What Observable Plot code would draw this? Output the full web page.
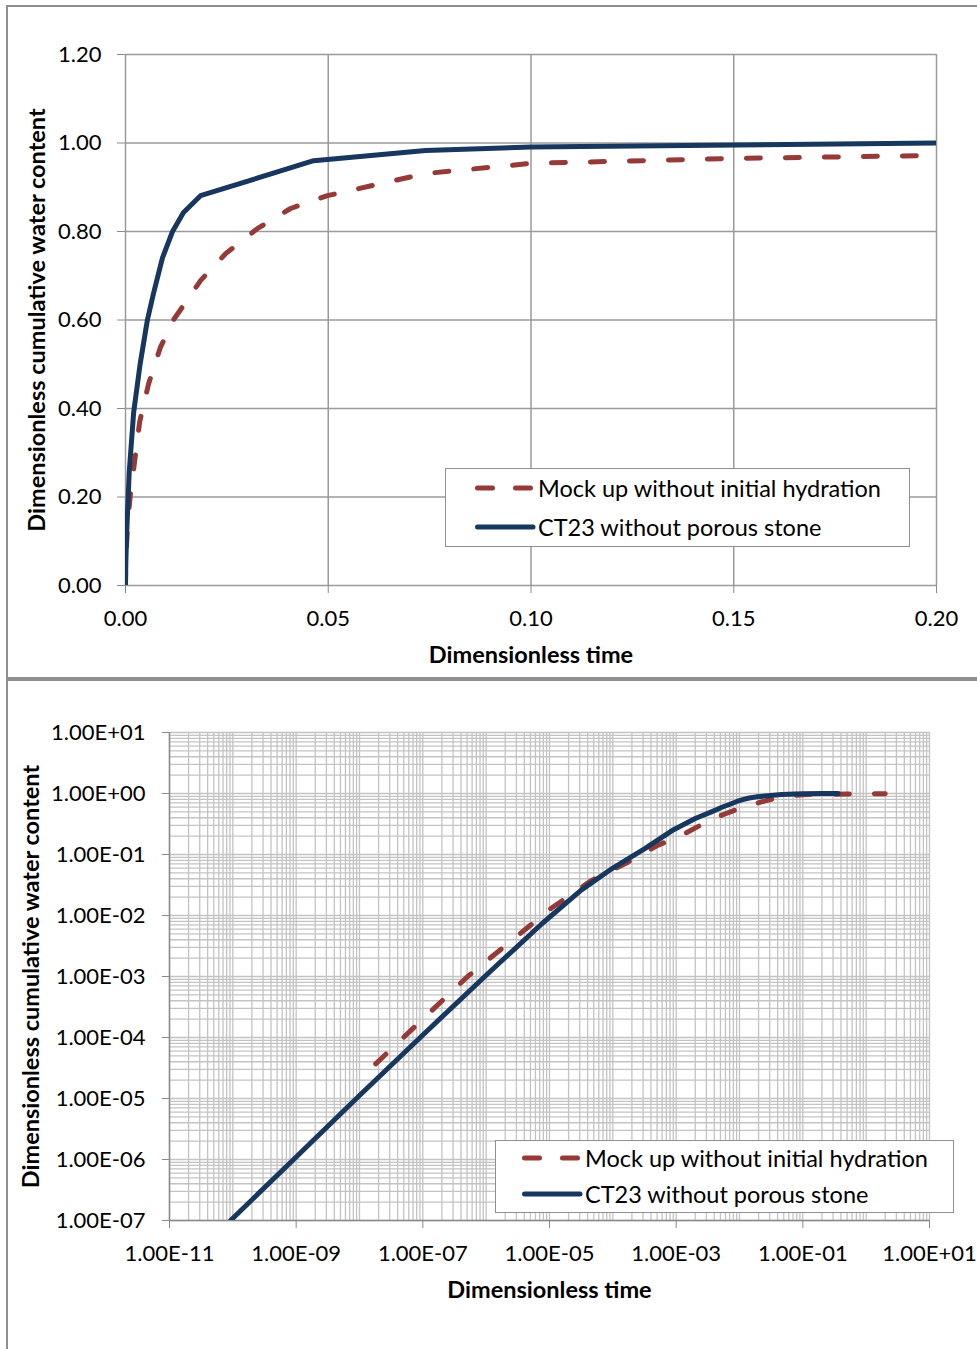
<!DOCTYPE html>
<html>
<head>
<meta charset="utf-8">
<script src="https://cdn.jsdelivr.net/npm/d3@7"></script>
<script src="https://cdn.jsdelivr.net/npm/@observablehq/plot@0.6"></script>
<style>
html,body{margin:0;padding:0;overflow:hidden;background:#fff;width:977px;height:1349px;}
#page{position:relative;width:977px;height:1349px;font-family:Lato,sans-serif;}
.panel{position:absolute;box-sizing:border-box;border:2px solid #8f8f8f;pointer-events:none;}
.chart{position:absolute;left:0;}
.legend{position:absolute;box-sizing:border-box;border:1.5px solid #8f8f8f;background:#fff;font-family:Lato,sans-serif;font-size:23.5px;color:#000;}
.legend .row{position:absolute;left:0;height:30px;display:flex;align-items:center;white-space:nowrap;}
.legend svg{display:block;}
</style>
</head>
<body>
<div id="page"></div>
<script>
// ---- data ----
const ctTime  = [9.2e-11, 1e-9, 1e-8, 1e-7, 1e-6, 7.9e-6, 3.2e-5, 1e-4, 3.2e-4, 9.1e-4, 0.002, 0.0036, 0.0054, 0.0069, 0.0091, 0.0116, 0.0143, 0.0185, 0.0464, 0.074, 0.1, 0.2, 0.36];
const ctValue = [1.0e-7, 1.1e-6, 1.12e-5, 1.1e-4, 1.05e-3, 7.6e-3, 0.0263, 0.060, 0.125, 0.255, 0.39, 0.50, 0.60, 0.66, 0.74, 0.80, 0.843, 0.881, 0.96, 0.983, 0.991, 1.0, 1.0];
const mockTime  = [1.8e-8, 5.1e-7, 1.05e-5, 1.78e-5, 4.5e-5, 1.7e-4, 5.1e-4, 0.0012, 0.0035, 0.0057, 0.0086, 0.0118, 0.0131, 0.0185, 0.0247, 0.0326, 0.0407, 0.0498, 0.074, 0.1, 0.15, 0.2, 0.5, 2.0];
const mockValue = [3.7e-5, 1.0e-3, 0.013, 0.019, 0.037, 0.074, 0.141, 0.205, 0.37, 0.456, 0.538, 0.60, 0.617, 0.689, 0.75, 0.807, 0.852, 0.881, 0.931, 0.954, 0.965, 0.972, 0.98, 0.99];

const seriesNames = ["Mock up without initial hydration", "CT23 without porous stone"];
const xLabel = "Dimensionless time";
const yLabel = "Dimensionless cumulative water content";

const linXTicks = [0, 0.05, 0.10, 0.15, 0.20];
const linYTicks = [0, 0.2, 0.4, 0.6, 0.8, 1.0, 1.2];
const logXTicks = [1e-11, 1e-9, 1e-7, 1e-5, 1e-3, 1e-1, 1e1];
const logYTicks = [1e-7, 1e-6, 1e-5, 1e-4, 1e-3, 1e-2, 1e-1, 1e0, 1e1];

// ---- styling ----
const RED = "#963a37", BLUE = "#17375e";
const FONT = "Lato, sans-serif";
const TICKFS = 22, LABELFS = 23.5;

const ct = ctTime.map((t, i) => ({t, v: ctValue[i]}));
const mock = mockTime.map((t, i) => ({t, v: mockValue[i]}));

function sci(d) {
  const [m, e] = d.toExponential(2).split("e");
  return m + "E" + e[0] + e.slice(1).padStart(2, "0");
}
function minorGrid(lo, hi) {
  const out = [];
  for (let e = lo; e < hi; e++) for (let k = 1; k < 10; k++) out.push(k * Math.pow(10, e));
  out.push(Math.pow(10, hi));
  return out;
}

const page = document.getElementById("page");

// ---- top: linear chart ----
const topChart = Plot.plot({
  width: 977, height: 680,
  marginLeft: 125, marginRight: 41, marginTop: 54, marginBottom: 95,
  style: {fontFamily: FONT, fontSize: TICKFS + "px", background: "transparent", color: "#000", overflow: "visible"},
  x: {domain: [0, 0.2]},
  y: {domain: [0, 1.2]},
  marks: [
    Plot.gridX(linXTicks, {stroke: "#9a9a9a", strokeOpacity: 1, strokeWidth: 1.5}),
    Plot.gridY(linYTicks, {stroke: "#9a9a9a", strokeOpacity: 1, strokeWidth: 1.5}),
    Plot.axisX({ticks: linXTicks, tickFormat: d => d.toFixed(2), tickSize: 8, tickPadding: 17, label: null, stroke: "#8a8a8a", fill: "#000", fontSize: TICKFS}),
    Plot.axisY({ticks: linYTicks, tickFormat: d => d.toFixed(2), tickSize: 8, tickPadding: 16, label: null, stroke: "#8a8a8a", fill: "#000", fontSize: TICKFS}),
    Plot.line(mock, {x: "t", y: "v", stroke: RED, strokeWidth: 5, strokeDasharray: "14,25", strokeLinecap: "round", clip: true}),
    Plot.line(ct, {x: "t", y: "v", stroke: BLUE, strokeWidth: 5, strokeLinejoin: "round", clip: true}),
    Plot.text([xLabel], {text: d => d, frameAnchor: "bottom", dy: 77, fontWeight: "bold", fontSize: LABELFS, fill: "#000"}),
    Plot.text([yLabel], {text: d => d, frameAnchor: "left", textAnchor: "middle", dx: -88, rotate: -90, fontWeight: "bold", fontSize: LABELFS, fill: "#000"})
  ]
});
topChart.classList.add("chart");
topChart.style.top = "0px";
page.appendChild(topChart);

// ---- bottom: log-log chart ----
const botChart = Plot.plot({
  width: 977, height: 669,
  marginLeft: 169, marginRight: 48, marginTop: 52, marginBottom: 129,
  style: {fontFamily: FONT, fontSize: TICKFS + "px", background: "transparent", color: "#000", overflow: "visible"},
  x: {type: "log", domain: [1e-11, 1e1]},
  y: {type: "log", domain: [1e-7, 1e1]},
  marks: [
    Plot.gridX(minorGrid(-11, 1), {stroke: "#c3c3c3", strokeOpacity: 1, strokeWidth: 1.3}),
    Plot.gridY(minorGrid(-7, 1), {stroke: "#c3c3c3", strokeOpacity: 1, strokeWidth: 1.3}),
    Plot.ruleX([1e-11], {stroke: "#8a8a8a", strokeWidth: 1.5}),
    Plot.ruleY([1e-7], {stroke: "#8a8a8a", strokeWidth: 1.5}),
    Plot.axisX({ticks: logXTicks, tickFormat: sci, tickSize: 8, tickPadding: 17, label: null, stroke: "#8a8a8a", fill: "#000", fontSize: TICKFS}),
    Plot.axisY({ticks: logYTicks, tickFormat: sci, tickSize: 7, tickPadding: 17, label: null, stroke: "#8a8a8a", fill: "#000", fontSize: TICKFS}),
    Plot.line(mock, {x: "t", y: "v", stroke: RED, strokeWidth: 5, strokeDasharray: "14,25", strokeLinecap: "round", clip: true}),
    Plot.line(ct, {x: "t", y: "v", stroke: BLUE, strokeWidth: 5, strokeLinejoin: "round", clip: true}),
    Plot.text([xLabel], {text: d => d, frameAnchor: "bottom", dy: 77, fontWeight: "bold", fontSize: LABELFS, fill: "#000"}),
    Plot.text([yLabel], {text: d => d, frameAnchor: "left", textAnchor: "middle", dx: -138, rotate: -90, fontWeight: "bold", fontSize: LABELFS, fill: "#000"})
  ]
});
botChart.classList.add("chart");
botChart.style.top = "680px";
page.appendChild(botChart);

// ---- panel borders ----
function panel(l, t, w, h) {
  const d = document.createElement("div");
  d.className = "panel";
  Object.assign(d.style, {left: l + "px", top: t + "px", width: w + "px", height: h + "px"});
  page.appendChild(d);
}
panel(6, 5, 1000, 674);
panel(6, 679, 1000, 700);

// ---- legends ----
function legend(left, topY, w, h, rows, sampleX, sampleW) {
  const box = document.createElement("div");
  box.className = "legend";
  Object.assign(box.style, {left: left + "px", top: topY + "px", width: w + "px", height: h + "px"});
  seriesNames.forEach((name, i) => {
    const r = document.createElement("div");
    r.className = "row";
    r.style.top = (rows[i] - topY - 15) + "px";
    r.style.left = (sampleX - left) + "px";
    const dashed = i === 0;
    const col = dashed ? RED : BLUE;
    r.innerHTML = `<svg width="${sampleW + 4}" height="30"><line x1="2.5" y1="15" x2="${sampleW}" y2="15" stroke="${col}" stroke-width="5" stroke-linecap="round" ${dashed ? 'stroke-dasharray="15,23"' : ''}/></svg><span style="margin-left:1px">${name}</span>`;
    box.appendChild(r);
  });
  page.appendChild(box);
}
legend(445, 468, 465, 79, [487, 526], 474, 58);
legend(495, 1140, 459, 73, [1157, 1193], 521, 58);
</script>
</body>
</html>
